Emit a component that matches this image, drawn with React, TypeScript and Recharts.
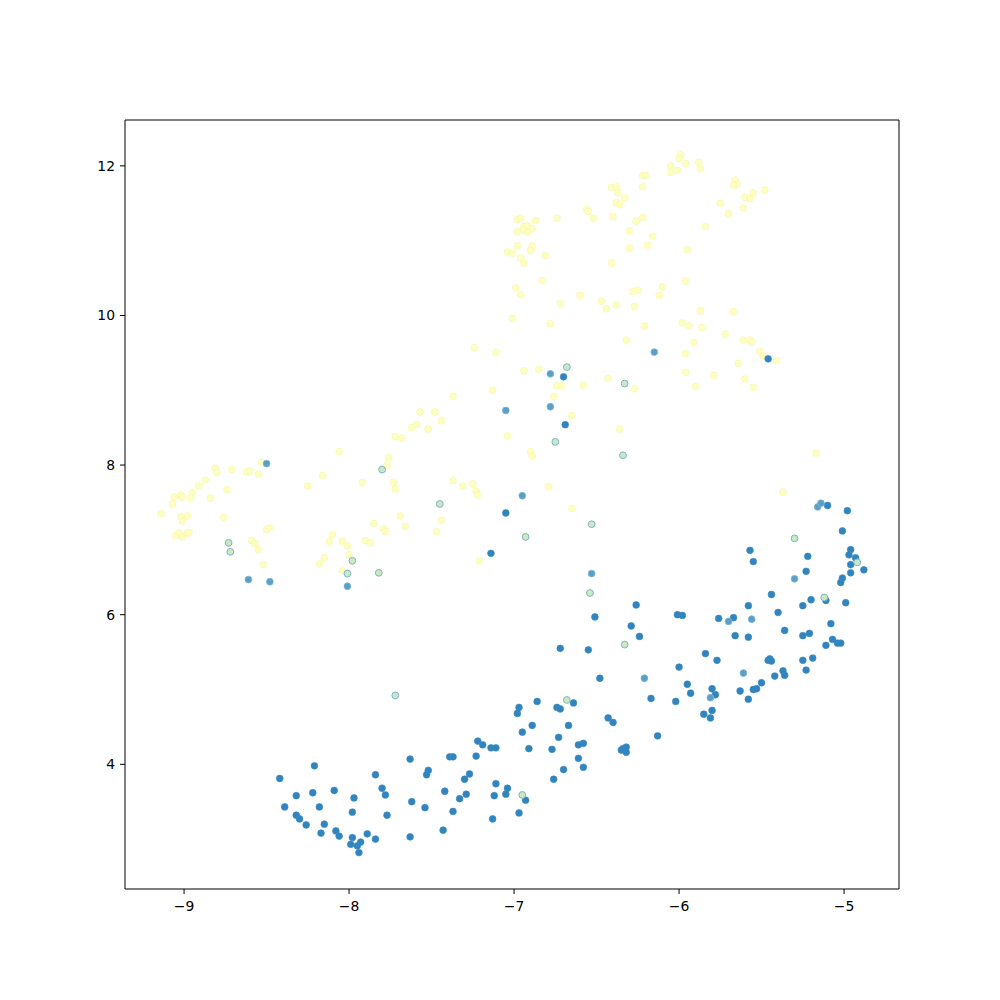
import React from "react";
import { ScatterChart, Scatter, XAxis, YAxis } from "recharts";

const xTicks = [-9, -8, -7, -6, -5];
const yTicks = [4, 6, 8, 10, 12];
const xDomain: [number, number] = [-9.358, -4.667];
const yDomain: [number, number] = [2.333, 12.613];

const yellowPoints: [number, number][] = [
  [-6.41, 11.71], [-6.38, 11.72], [-6.37, 11.64], [-6.33, 11.57], [-6.38, 11.51], [-6.36, 11.48], [-6.56, 11.42], [-6.55, 11.39],
  [-6.52, 11.3], [-6.4, 11.32], [-6.98, 11.28], [-6.96, 11.3], [-6.87, 11.27], [-6.74, 11.3], [-6.94, 11.19], [-6.92, 11.2],
  [-6.89, 11.16], [-6.94, 11.14], [-6.98, 11.12], [-6.92, 11.11], [-6.3, 11.13], [-6.98, 10.93], [-6.89, 10.93], [-6.9, 10.87],
  [-6.3, 10.9], [-7.04, 10.85], [-7.01, 10.83], [-6.96, 10.77], [-6.81, 10.8], [-6.94, 10.7], [-6.41, 10.7], [-6.83, 10.47],
  [-6.99, 10.37], [-6.96, 10.28], [-6.6, 10.27], [-6.47, 10.19], [-6.44, 10.09], [-6.38, 10.14], [-6.72, 10.16], [-7.01, 9.96],
  [-6.78, 9.89], [-6.32, 9.67], [-7.24, 9.57], [-7.11, 9.51], [-6.94, 9.26], [-6.85, 9.28], [-6.43, 9.16],
  [-5.99, 12.15], [-6.0, 12.1], [-5.96, 12.03], [-6.05, 12.0], [-5.88, 12.05], [-5.87, 11.96], [-6.01, 11.94], [-6.05, 11.91],
  [-6.22, 11.87], [-6.2, 11.87], [-6.22, 11.72], [-5.66, 11.81], [-5.65, 11.75], [-5.67, 11.74], [-5.55, 11.64], [-5.48, 11.68],
  [-5.6, 11.58], [-5.57, 11.56], [-5.61, 11.44], [-5.75, 11.5], [-5.7, 11.36], [-6.26, 11.26], [-6.22, 11.31], [-5.84, 11.19],
  [-6.16, 11.06], [-6.19, 10.94], [-5.95, 10.88], [-5.96, 10.46], [-6.28, 10.32], [-6.25, 10.34], [-6.1, 10.38], [-6.12, 10.27],
  [-6.27, 10.12], [-5.87, 10.06], [-5.67, 10.05], [-6.21, 9.86], [-5.98, 9.9], [-5.94, 9.86], [-5.86, 9.84], [-5.72, 9.75],
  [-5.91, 9.64], [-5.61, 9.67], [-5.57, 9.67], [-5.56, 9.64], [-5.51, 9.52], [-5.49, 9.46], [-5.41, 9.4], [-5.96, 9.49],
  [-5.64, 9.36], [-5.96, 9.24], [-5.79, 9.2], [-5.6, 9.15],
  [-8.06, 8.18], [-8.53, 8.04], [-8.81, 7.96], [-8.8, 7.9], [-8.71, 7.94], [-8.62, 7.91], [-8.6, 7.92], [-8.55, 7.88],
  [-8.87, 7.8], [-8.91, 7.72], [-8.16, 7.86], [-8.25, 7.72], [-7.92, 7.77], [-7.76, 8.1], [-7.77, 8.0], [-9.06, 7.57],
  [-9.02, 7.6], [-9.01, 7.57], [-8.95, 7.63], [-8.96, 7.56], [-8.84, 7.56], [-8.74, 7.67], [-9.07, 7.48], [-9.14, 7.35],
  [-9.02, 7.31], [-8.98, 7.32], [-9.01, 7.25], [-8.76, 7.3], [-9.05, 7.06], [-9.03, 7.09], [-9.01, 7.04], [-8.98, 7.09],
  [-8.97, 7.1], [-8.5, 7.14], [-8.48, 7.16], [-8.59, 6.99], [-8.57, 6.95], [-8.55, 6.87], [-8.52, 6.67], [-7.85, 7.22],
  [-7.79, 7.15], [-7.78, 7.11], [-8.1, 7.07], [-8.12, 6.98], [-8.04, 6.98], [-8.01, 6.92], [-7.9, 6.99], [-7.87, 6.96],
  [-8.15, 6.76], [-8.18, 6.68], [-8.0, 6.8], [-8.04, 6.59],
  [-7.37, 8.92], [-7.13, 9.0], [-6.74, 9.06], [-6.71, 9.06], [-6.58, 9.07], [-6.76, 8.92], [-7.57, 8.71], [-7.48, 8.71],
  [-7.44, 8.59], [-7.59, 8.54], [-7.62, 8.5], [-7.52, 8.48], [-6.65, 8.66], [-6.36, 8.48], [-7.72, 8.38], [-7.68, 8.36],
  [-7.04, 8.39], [-6.9, 8.18], [-6.89, 8.12], [-7.73, 7.77], [-7.72, 7.68], [-7.37, 7.79], [-7.31, 7.72], [-7.25, 7.75],
  [-7.23, 7.65], [-7.22, 7.6], [-6.79, 7.71], [-6.65, 7.42], [-7.69, 7.32], [-7.66, 7.18], [-7.44, 7.26], [-7.47, 7.11],
  [-7.21, 6.72],
  [-6.27, 9.02], [-5.9, 9.05], [-5.55, 9.04], [-5.17, 8.16], [-5.37, 7.64],
];

const bluePoints: [number, number][] = [
  [-6.7, 9.18], [-5.46, 9.42], [-6.69, 8.54], [-7.05, 7.36], [-7.14, 6.82], [-6.51, 5.97],
  [-5.1, 7.46], [-4.98, 7.39], [-5.01, 7.12], [-5.57, 6.86], [-5.55, 6.71], [-5.22, 6.78], [-4.96, 6.87], [-4.97, 6.8],
  [-4.93, 6.76], [-4.96, 6.67], [-4.88, 6.6], [-4.96, 6.56], [-5.23, 6.58], [-5.01, 6.49], [-5.02, 6.43], [-5.44, 6.27],
  [-5.2, 6.2], [-5.11, 6.19], [-4.99, 6.16], [-5.25, 6.12], [-5.58, 6.12], [-6.26, 6.13], [-5.4, 6.03], [-6.01, 6.0],
  [-5.98, 5.99], [-5.76, 5.95], [-5.67, 5.96],
  [-5.36, 5.79], [-5.58, 5.7], [-5.08, 5.88], [-5.25, 5.72], [-5.21, 5.75], [-5.07, 5.67], [-5.11, 5.59], [-5.04, 5.62],
  [-5.02, 5.62], [-5.46, 5.39], [-5.45, 5.41], [-5.44, 5.38], [-5.25, 5.39], [-5.19, 5.42], [-5.37, 5.25], [-5.36, 5.19],
  [-5.23, 5.26], [-5.42, 5.18], [-5.5, 5.09], [-5.63, 4.98], [-5.55, 5.0], [-5.53, 5.01], [-5.58, 4.87],
  [-6.29, 5.85], [-6.24, 5.71], [-6.72, 5.55], [-6.55, 5.53], [-5.66, 5.72], [-5.84, 5.48], [-5.77, 5.39], [-6.0, 5.3],
  [-6.48, 5.15], [-5.95, 5.07], [-5.93, 4.95], [-5.8, 5.01], [-5.78, 4.93], [-6.17, 4.88], [-6.02, 4.84], [-5.85, 4.67],
  [-5.8, 4.72], [-5.81, 4.62], [-6.64, 4.82], [-6.86, 4.84], [-6.97, 4.76], [-6.98, 4.68], [-6.74, 4.76], [-6.72, 4.74],
  [-6.43, 4.62], [-6.4, 4.56], [-6.89, 4.52], [-6.67, 4.52], [-6.95, 4.43], [-6.73, 4.36], [-6.13, 4.38], [-6.91, 4.21],
  [-6.77, 4.2], [-6.61, 4.26], [-6.58, 4.28], [-6.61, 4.08], [-6.58, 3.96], [-6.7, 3.93], [-6.35, 4.19], [-6.34, 4.21],
  [-6.32, 4.23], [-6.32, 4.16], [-6.76, 3.8], [-7.04, 3.68], [-7.05, 3.6], [-6.93, 3.52], [-6.97, 3.35],
  [-7.22, 4.31], [-7.19, 4.26], [-7.14, 4.22], [-7.11, 4.22], [-7.63, 4.07], [-7.39, 4.1], [-7.37, 4.1], [-7.23, 4.11],
  [-8.21, 3.98], [-8.42, 3.81], [-7.52, 3.92], [-7.53, 3.86], [-7.84, 3.86], [-7.27, 3.87], [-7.3, 3.8], [-7.11, 3.74],
  [-8.09, 3.65], [-8.22, 3.62], [-8.32, 3.58], [-7.8, 3.68], [-7.78, 3.59], [-7.97, 3.55], [-7.42, 3.64], [-7.29, 3.6],
  [-7.33, 3.54], [-7.12, 3.58], [-7.62, 3.5], [-8.39, 3.43], [-8.18, 3.43], [-7.54, 3.42], [-7.98, 3.36], [-7.37, 3.37],
  [-8.32, 3.32], [-8.3, 3.27], [-7.77, 3.32], [-7.13, 3.27], [-8.26, 3.19], [-8.15, 3.2], [-8.17, 3.08], [-8.08, 3.11],
  [-8.06, 3.04], [-7.43, 3.12], [-7.98, 3.02], [-7.89, 3.07], [-7.84, 3.0], [-7.63, 3.03], [-7.99, 2.93], [-7.95, 2.91],
  [-7.93, 2.96], [-7.94, 2.82],
];

const steelPoints: [number, number][] = [
  [-6.78, 9.22], [-6.15, 9.51], [-8.5, 8.02], [-8.61, 6.47], [-8.48, 6.44], [-8.01, 6.38], [-7.05, 8.73], [-6.78, 8.78],
  [-6.95, 7.59], [-6.53, 6.55], [-5.16, 7.44], [-5.14, 7.49], [-5.3, 6.48], [-5.7, 5.91], [-5.56, 5.94], [-5.61, 5.22],
  [-6.21, 5.15], [-5.81, 4.89],
];

const mixedPoints: [number, number][] = [
  [-6.68, 9.31], [-7.8, 7.94], [-8.73, 6.96], [-8.72, 6.84], [-7.98, 6.72], [-8.01, 6.55], [-7.82, 6.56], [-6.33, 9.09],
  [-6.75, 8.31], [-6.34, 8.13], [-7.45, 7.48], [-6.53, 7.21], [-6.93, 7.04], [-6.54, 6.29], [-5.3, 7.02], [-4.92, 6.7],
  [-5.12, 6.23], [-6.33, 5.6], [-6.68, 4.86], [-7.72, 4.92], [-6.95, 3.59],
];

const toRows = (pts: [number, number][]) => pts.map(([x, y]) => ({ x, y }));

const makeDot = (fill: string, stroke: string, sw: number) => (props: any) => {
  if (props.cx == null || props.cy == null) return <g />;
  return <circle cx={props.cx} cy={props.cy} r={3.4} fill={fill} stroke={stroke} strokeWidth={sw} />;
};

const fmt = (v: number) => String(v).replace("-", "\u2212");
const tickStyle = { fill: "#000", fontSize: 13.9, fontFamily: "DejaVu Sans" };

export default function App() {
  return (
    <div style={{ position: "absolute", left: 0, top: 0, width: 1000, height: 1000, background: "#fff" }}>
      <ScatterChart width={1000} height={1000} margin={{ top: 119, right: 100, bottom: 81, left: 65 }}>
        <XAxis
          xAxisId="b"
          type="number"
          dataKey="x"
          domain={xDomain}
          ticks={xTicks}
          allowDataOverflow
          tickFormatter={fmt}
          tick={tickStyle}
          tickSize={5}
          tickMargin={7}
          height={30}
          stroke="#000"
        />
        <XAxis xAxisId="t" orientation="top" type="number" domain={xDomain} ticks={xTicks} allowDataOverflow tick={false} tickLine={false} height={1} stroke="#000" />
        <YAxis
          yAxisId="l"
          type="number"
          dataKey="y"
          domain={yDomain}
          ticks={yTicks}
          allowDataOverflow
          tickFormatter={fmt}
          tick={tickStyle}
          tickSize={5}
          tickMargin={5}
          width={60}
          stroke="#000"
        />
        <YAxis yAxisId="r" orientation="right" type="number" domain={yDomain} ticks={yTicks} allowDataOverflow tick={false} tickLine={false} width={1} stroke="#000" />
        <Scatter xAxisId="b" yAxisId="l" data={toRows(yellowPoints)} isAnimationActive={false} shape={makeDot("#ffffbf", "#f4f4b0", 0.6)} />
        <Scatter xAxisId="b" yAxisId="l" data={toRows(bluePoints)} isAnimationActive={false} shape={makeDot("#3185be", "#3a8ac0", 0.6)} />
        <Scatter xAxisId="b" yAxisId="l" data={toRows(steelPoints)} isAnimationActive={false} shape={makeDot("#5a9fc8", "#7fb6d2", 0.8)} />
        <Scatter xAxisId="b" yAxisId="l" data={toRows(mixedPoints)} isAnimationActive={false} shape={makeDot("#cde8bf", "#7cb6d0", 1)} />
      </ScatterChart>
    </div>
  );
}
